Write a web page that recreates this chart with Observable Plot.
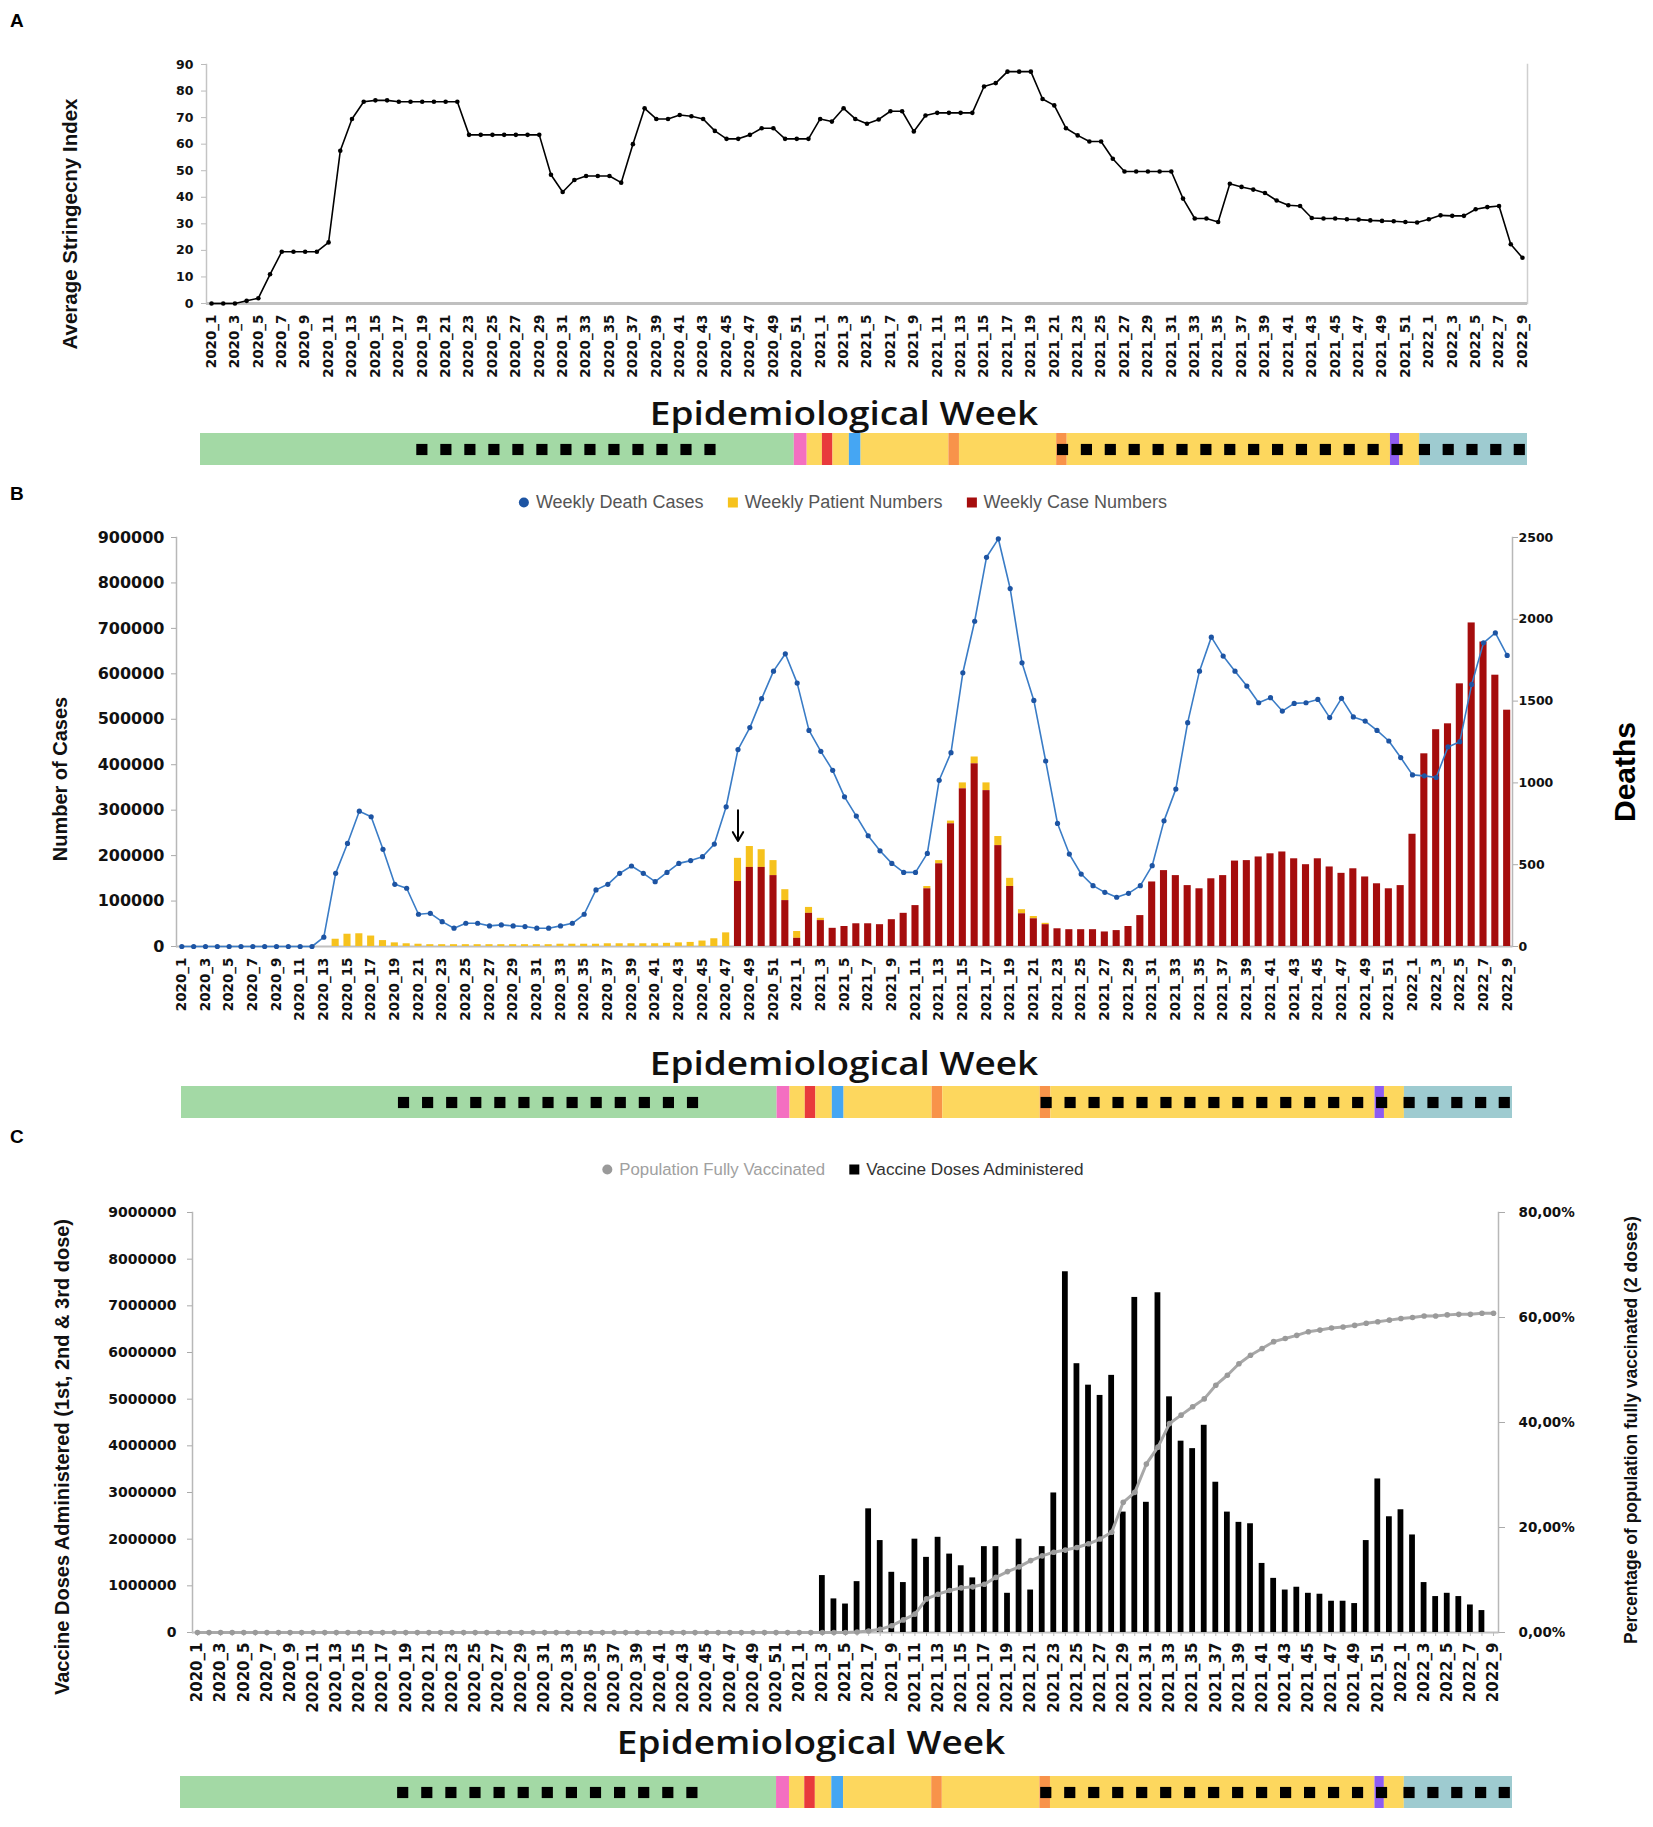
<!DOCTYPE html>
<html>
<head>
<meta charset="utf-8">
<script src="https://cdn.jsdelivr.net/npm/d3@7"></script>
<script src="https://cdn.jsdelivr.net/npm/@observablehq/plot@0.6"></script>
<style>
  body { margin: 0; background: #fff; }
  #root { position: relative; width: 1653px; height: 1827px; background: #fff; overflow: hidden; font-family: "Liberation Sans", Arial, sans-serif; }
  .abs { position: absolute; white-space: nowrap; }
  .panel { font-weight: bold; font-size: 19px; color: #000; }
  .vt { transform: translate(-50%, -50%) rotate(-90deg); font-weight: bold; color: #111; }
  .title { transform: translate(-50%, -50%) scaleX(1.12); font-family: "Open Sans", sans-serif; font-weight: 600; font-size: 33px; color: #111; }
  .legend { transform: translate(-50%, -50%); display: flex; align-items: center; font-family: "Liberation Sans", Arial, sans-serif; }
  .legend .item { display: flex; align-items: center; margin: 0 12px; }
  .legend .sw { display: inline-block; margin-right: 7px; }
</style>
</head>
<body>
<div id="root"></div>
<script>
// ---------- categories ----------
const weeks = [];
for (let w = 1; w <= 52; w++) weeks.push(`2020_${w}`);
for (let w = 1; w <= 52; w++) weeks.push(`2021_${w}`);
for (let w = 1; w <= 9; w++) weeks.push(`2022_${w}`);
const weekTicks = weeks.filter((d, i) => i % 2 === 0);

// ---------- Panel A: average stringency index ----------
const stringency = [
  0,0,0,1,2,11,19.5,19.5,19.5,19.5,
  23,57.5,69.5,76,76.5,76.5,76,76,76,76,
  76,76,63.5,63.5,63.5,63.5,63.5,63.5,63.5,48.5,
  42,46.5,48,48,48,45.5,60,73.5,69.5,69.5,
  71,70.5,69.5,65,62,62,63.5,66,66,62,
  62,62,
  69.5,68.5,73.5,69.5,67.7,69.3,72.4,72.4,64.8,70.8,
  71.8,71.8,71.8,71.8,81.7,83,87.3,87.3,87.3,77,
  74.6,66,63.3,61,61,54.5,49.7,49.7,49.7,49.7,
  49.7,39.5,32,32,30.7,45.1,43.9,42.9,41.6,38.8,
  37,36.7,32.2,32,32,31.7,31.6,31.3,31.1,31,
  30.7,30.5,
  31.7,33.2,33,33,35.5,36.3,36.7,22.3,17.2
];
const stringencyTicks = [0,10,20,30,40,50,60,70,80,90];

// ---------- Panel B: deaths, patients, cases ----------
const deaths = [
  0,0,0,0,0,0,0,0,0,0,
  0,0,57,447,630,827,793,594,380,356,
  197,203,152,112,142,142,126,132,126,122,
  112,112,126,142,197,346,380,447,492,447,
  396,453,508,525,549,626,854,1204,1338,1515,
  1683,1789,
  1610,1321,1193,1077,915,797,677,585,
  508,453,453,569,1016,1185,1673,1988,2379,2492,
  2188,1734,1504,1134,752,565,443,372,331,301,
  325,372,494,768,962,1368,1683,1891,1775,1683,
  1592,1490,1521,1439,1486,1490,1510,1399,1517,1403,
  1378,1321,1256,1155,1049,1043,1033,1220,1252,1602,
  1856,1917,1779
];
const cases = [
  0,0,0,0,0,0,0,0,0,0,
  0,0,0,0,0,0,0,0,0,0,
  0,0,0,0,0,0,0,0,0,0,
  0,0,0,0,0,0,0,0,0,0,
  0,0,0,0,0,0,0,
  143000,174000,174000,156000,101000,
  18000,73000,57000,40000,44000,50000,50000,48000,
  59000,73000,90000,127000,182000,270000,347000,402000,343000,222000,
  132000,72000,61000,48000,39000,37000,37000,37000,32000,35000,
  44000,68000,142000,167000,156000,134000,127000,149000,156000,188000,
  189000,197000,204000,208000,193000,180000,193000,175000,161000,171000,
  153000,138000,127000,134000,247000,424000,477000,490000,578000,712000,
  670000,597000,520000
];
const patients = [
  0,0,0,0,0,0,0,0,0,0,0,0,0,
  16000,27000,28000,23000,13000,8000,6000,
  5000,4000,4000,4000,4000,4000,4000,4000,4000,4000,
  4000,4000,5000,5000,5000,5000,6000,6000,6000,6000,
  6000,7000,8000,9000,12000,17000,30000,
  51000,46000,39000,33000,24000,
  15000,13000,5000,0,0,0,0,0,
  0,0,0,5000,7000,6000,13000,15000,17000,20000,
  18000,9000,5000,3000,0,0,0,0,0,0,
  0,0,0,0,0,0,0,0,0,0,
  0,0,0,0,0,0,0,0,0,0,
  0,0,0,0,0,0,0,0,0,0,
  0,0,0
];
const caseTicks = [0,100000,200000,300000,400000,500000,600000,700000,800000,900000];
const deathTicks = [0,500,1000,1500,2000,2500];
const arrowWeek = "2020_48", arrowFrom = 300000, arrowTo = 232000;

// ---------- Panel C: vaccination ----------
const doses = [
  0,0,0,0,0,0,0,0,0,0,
  0,0,0,0,0,0,0,0,0,0,
  0,0,0,0,0,0,0,0,0,0,
  0,0,0,0,0,0,0,0,0,0,
  0,0,0,0,0,0,0,0,0,0,
  0,0,0,0,
  1220000,720000,610000,1090000,2650000,1970000,
  1290000,1070000,2000000,1610000,2040000,1680000,1430000,1170000,1840000,1840000,
  840000,2000000,910000,1840000,2990000,7730000,5760000,5300000,5080000,5510000,
  2580000,7180000,2790000,7280000,5050000,4100000,3940000,4440000,3220000,2580000,
  2360000,2330000,1480000,1160000,910000,970000,840000,820000,670000,670000,
  620000,1970000,3290000,2480000,2630000,2090000,1070000,770000,840000,770000,
  590000,470000,0
];
const fullyVaccinatedPct = [
  0,0,0,0,0,0,0,0,0,0,
  0,0,0,0,0,0,0,0,0,0,
  0,0,0,0,0,0,0,0,0,0,
  0,0,0,0,0,0,0,0,0,0,
  0,0,0,0,0,0,0,0,0,0,
  0,0,0,0,0,0,0,
  0.1,0.3,0.6,
  1.3,2.4,3.5,6.4,7.3,8,8.5,8.7,9.2,10.5,
  11.6,12.5,13.7,14.6,15.3,15.7,16.2,16.9,17.8,19.1,
  24.8,26.7,32.1,35.3,39.8,41.4,43,44.5,47.1,49,
  51.2,52.8,54.1,55.4,56,56.6,57.3,57.6,58,58.2,
  58.5,58.9,59.2,59.5,59.8,60,60.3,60.3,60.5,60.6,
  60.6,60.8,60.8
];
const doseTicks = [0,1000000,2000000,3000000,4000000,5000000,6000000,7000000,8000000,9000000];
const pctTicks = [0,20,40,60,80];

// ---------- timeline band (week units) ----------
const bandDomain = [-0.9, 112.4];
const bandFrom  = [-0.9, 49.8, 50.9, 52.2, 53.1, 54.5, 55.5, 63.0, 63.9, 72.2, 73.1, 100.7, 101.5, 103.2];
const bandTo    = [49.8, 50.9, 52.2, 53.1, 54.5, 55.5, 63.0, 63.9, 72.2, 73.1, 100.7, 101.5, 103.2, 112.4];
const bandColor = ["#a3d9a5","#f46fc1","#fdd75e","#e83a3c","#fdd75e","#45a6f3","#fdd75e","#f8934a","#fdd75e","#f8934a","#fdd75e","#8d5cf2","#fdd75e","#9ecbd0"];
const bandMarks = [18.0,20.05,22.1,24.15,26.2,28.25,30.3,32.35,34.4,36.45,38.5,40.55,42.6,
  72.7,74.74,76.78,78.82,80.86,82.9,84.94,86.98,89.02,91.06,93.1,95.14,97.18,99.22,101.26,
  103.6,105.63,107.66,109.69,111.7];

// ---------- build ----------
const root = document.getElementById("root");
const rows = weeks.map((w, i) => ({
  week: w, s: stringency[i], deaths: deaths[i], cases: cases[i], patients: patients[i],
  doses: doses[i], pct: fullyVaccinatedPct[i]
}));

function place(el, top) {
  el.style.position = "absolute";
  el.style.left = "0px";
  el.style.top = top + "px";
  el.style.background = "transparent";
  root.appendChild(el);
}
function addDiv(cls, html, left, top, extra) {
  const d = document.createElement("div");
  d.className = "abs " + cls;
  d.innerHTML = html;
  d.style.left = left + "px";
  d.style.top = top + "px";
  if (extra) Object.assign(d.style, extra);
  root.appendChild(d);
  return d;
}
const tickFont = {fontFamily: "DejaVu Sans", fontWeight: "bold", fill: "#111"};

// Panel A
const plotA = Plot.plot({
  width: 1653, height: 400,
  marginTop: 64, marginBottom: 97, marginLeft: 206, marginRight: 126,
  style: {fontFamily: "DejaVu Sans", fontWeight: "bold", color: "#111", background: "transparent"},
  x: {type: "point", domain: weeks, padding: 0.43, axis: null},
  y: {domain: [0, 90], axis: null},
  marks: [
    Plot.frame({anchor: "left", stroke: "#c4c4c4", strokeWidth: 1.5}),
    Plot.frame({anchor: "right", stroke: "#cfcfcf", strokeWidth: 1.5}),
    Plot.ruleY([0], {stroke: "#c0c0c0", strokeWidth: 3}),
    Plot.axisY({ticks: stringencyTicks, tickSize: 5, tickPadding: 8, stroke: "#bbb", label: null, fontSize: 12.5, ...tickFont}),
    Plot.axisX({ticks: weekTicks, tickRotate: -90, tickSize: 0, tickPadding: 11, label: null, fontSize: 13.5, ...tickFont}),
    Plot.line(rows, {x: "week", y: "s", stroke: "#000", strokeWidth: 1.6}),
    Plot.dot(rows, {x: "week", y: "s", r: 2.3, fill: "#000"})
  ]
});
place(plotA, 0);

// Panel B
const kD = 900000 / 2500;
const plotB = Plot.plot({
  width: 1653, height: 560,
  marginTop: 57, marginBottom: 94, marginLeft: 176, marginRight: 141,
  style: {fontFamily: "DejaVu Sans", fontWeight: "bold", color: "#111", background: "transparent"},
  x: {type: "band", domain: weeks, paddingInner: 0.4, paddingOuter: 0.15, axis: null},
  y: {domain: [0, 900000], axis: null},
  marks: [
    Plot.frame({anchor: "left", stroke: "#b8b8b8", strokeWidth: 1.5}),
    Plot.frame({anchor: "right", stroke: "#b8b8b8", strokeWidth: 1.5}),
    Plot.ruleY([0], {stroke: "#c0c0c0", strokeWidth: 2}),
    Plot.axisY({ticks: caseTicks, tickFormat: d => String(d), tickSize: 5, tickPadding: 7, stroke: "#aaa", label: null, fontSize: 16, ...tickFont}),
    Plot.axisY({anchor: "right", ticks: deathTicks.map(d => d * kD), tickFormat: d => String(Math.round(d / kD)), tickSize: 5, tickPadding: 1, stroke: "#aaa", label: null, fontSize: 12.5, ...tickFont}),
    Plot.axisX({ticks: weekTicks, tickRotate: -90, tickSize: 0, tickPadding: 11, label: null, fontSize: 13.5, ...tickFont}),
    Plot.barY(rows, {x: "week", y1: "cases", y2: d => d.cases + d.patients, fill: "#f6c21d"}),
    Plot.barY(rows, {x: "week", y: "cases", fill: "#a50d0d"}),
    Plot.line(rows, {x: "week", y: d => d.deaths * kD, stroke: "#3a7cc6", strokeWidth: 1.6}),
    Plot.dot(rows, {x: "week", y: d => d.deaths * kD, r: 2.6, fill: "#1d54a3"}),
    Plot.arrow([{week: arrowWeek, from: arrowFrom, to: arrowTo}], {x1: "week", x2: "week", y1: "from", y2: "to", stroke: "#000", strokeWidth: 2, headLength: 8})
  ]
});
place(plotB, 480);

// Panel C
const kP = 9000000 / 80;
const plotC = Plot.plot({
  width: 1653, height: 540,
  marginTop: 22, marginBottom: 98, marginLeft: 192, marginRight: 155,
  style: {fontFamily: "DejaVu Sans", fontWeight: "bold", color: "#111", background: "transparent"},
  x: {type: "band", domain: weeks, paddingInner: 0.5, paddingOuter: 0.18, axis: null},
  y: {domain: [0, 9000000], axis: null},
  marks: [
    Plot.frame({anchor: "left", stroke: "#b8b8b8", strokeWidth: 1.5}),
    Plot.frame({anchor: "right", stroke: "#b8b8b8", strokeWidth: 1.5}),
    Plot.ruleY([0], {stroke: "#c0c0c0", strokeWidth: 2}),
    Plot.axisY({ticks: doseTicks, tickFormat: d => String(d), tickSize: 5, tickPadding: 11, stroke: "#aaa", label: null, fontSize: 14, ...tickFont}),
    Plot.axisY({anchor: "right", ticks: pctTicks.map(d => d * kP), tickFormat: d => (d / kP).toFixed(2).replace(".", ",") + "%", tickSize: 6, tickPadding: 14, stroke: "#aaa", label: null, fontSize: 13.5, ...tickFont}),
    Plot.axisX({ticks: weeks, tickSize: 4, tickFormat: () => "", stroke: "#bbb", label: null}),
    Plot.axisX({ticks: weekTicks, tickRotate: -90, tickSize: 0, tickPadding: 10, label: null, fontSize: 15, ...tickFont}),
    Plot.barY(rows, {x: "week", y: "doses", fill: "#000"}),
    Plot.line(rows, {x: "week", y: d => d.pct * kP, stroke: "#a8a8a8", strokeWidth: 3}),
    Plot.dot(rows, {x: "week", y: d => d.pct * kP, r: 2.8, fill: "#9a9a9a"})
  ]
});
place(plotC, 1190);

// Timeline bands
const segments = bandFrom.map((f, i) => ({from: f, to: bandTo[i], color: bandColor[i]}));
function band(left, right, top, h) {
  const p = Plot.plot({
    width: 1653, height: h,
    marginTop: 0, marginBottom: 0, marginLeft: left, marginRight: 1653 - right,
    x: {type: "linear", domain: bandDomain, axis: null},
    marks: [
      Plot.rect(segments, {x1: "from", x2: "to", fill: "color"}),
      Plot.dot(bandMarks, {x: d => d, symbol: "square", r: 6.3, fill: "#000", frameAnchor: "middle"})
    ]
  });
  place(p, top);
}
band(200, 1527, 433, 32);
band(181, 1512, 1086, 32);
band(180, 1512, 1776, 32);

// Text annotations
addDiv("panel", "A", 10, 10);
addDiv("panel", "B", 10, 483);
addDiv("panel", "C", 10, 1126);

addDiv("vt", "Average Stringecny Index", 70, 224, {fontSize: "20.5px"});
addDiv("vt", "Number of Cases", 60, 779, {fontSize: "20px"});
addDiv("vt", "Deaths", 1625, 772, {fontSize: "30px", color: "#000"});
addDiv("vt", "Vaccine Doses Administered (1st, 2nd &amp; 3rd dose)", 62, 1457, {fontSize: "20px"});
addDiv("vt", "Percentage of population fully vaccinated (2 doses)", 1631, 1430, {fontSize: "17.5px"});

addDiv("title", "Epidemiological Week", 844, 412);
addDiv("title", "Epidemiological Week", 844, 1062);
addDiv("title", "Epidemiological Week", 811, 1741);

addDiv("legend",
  `<span class="item"><span class="sw" style="width:10px;height:10px;border-radius:50%;background:#1d54a3"></span><span style="font-size:18px;color:#555">Weekly Death Cases</span></span>` +
  `<span class="item"><span class="sw" style="width:10px;height:10px;background:#f6c21d"></span><span style="font-size:18px;color:#555">Weekly Patient Numbers</span></span>` +
  `<span class="item"><span class="sw" style="width:10px;height:10px;background:#a50d0d"></span><span style="font-size:18px;color:#555">Weekly Case Numbers</span></span>`,
  843, 502);
addDiv("legend",
  `<span class="item"><span class="sw" style="width:10px;height:10px;border-radius:50%;background:#9a9a9a"></span><span style="font-size:16.8px;color:#a0a0a0">Population Fully Vaccinated</span></span>` +
  `<span class="item"><span class="sw" style="width:10px;height:10px;background:#000"></span><span style="font-size:17.2px;color:#333">Vaccine Doses Administered</span></span>`,
  843, 1169);
</script>
</body>
</html>
